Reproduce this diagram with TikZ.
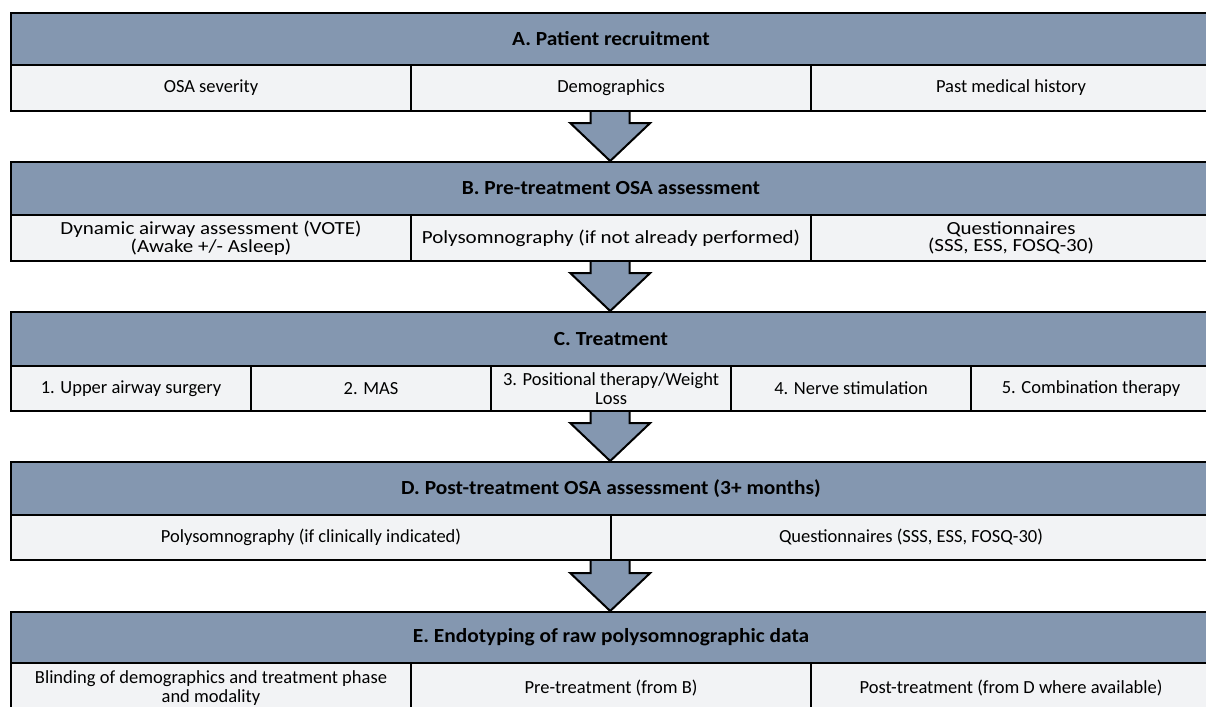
\documentclass[tikz,border=0pt]{standalone}
\usepackage{fontspec}
\usepackage{graphicx}
\setmainfont{Carlito}
\usetikzlibrary{calc}
\definecolor{headfill}{RGB}{132,151,176}
\definecolor{cellfill}{RGB}{242,243,245}
\newcommand{\headfont}{\fontsize{20}{22}\selectfont\bfseries}
\newcommand{\cellfont}{\fontsize{18.5}{19.5}\selectfont}
% horizontally widened text for the headers and the second stage cells
\newcommand{\hwide}[1]{\scalebox{1.07}[1]{#1}}
\newcommand{\bwide}[1]{\scalebox{1.135}[1]{#1}}
\tikzset{
  frame/.style={line width=2pt, draw=black},
  headbox/.style={frame, fill=headfill, anchor=north west, inner sep=0pt,
    minimum width=1200pt, font=\headfont, text=black},
  cellbox/.style={frame, fill=cellfill, anchor=north west, inner sep=0pt,
    align=center, font=\cellfont, text=black},
  bcell/.style={cellbox, minimum width=400pt, minimum height=46pt,
    font=\fontsize{18.5}{17.5}\selectfont},
  fatarrow/.style={line width=2pt, draw=black, fill=headfill, line join=miter},
  tablebox/.style={anchor=north west, inner sep=0pt, minimum width=1200pt}
}
% block arrow from the bottom of one table to the top of the next
\newcommand{\blockarrow}[2]{%
  \path[fatarrow] let \p1=(#1.south), \p2=(#2.north) in
    (\x1-19.5pt,\y1) -- (\x1-19.5pt,\y2+38pt) -- (\x1-40pt,\y2+38pt)
    -- (\x2,\y2) -- (\x1+40pt,\y2+38pt) -- (\x1+19.5pt,\y2+38pt)
    -- (\x1+19.5pt,\y1) -- cycle;}
\begin{document}
\begin{tikzpicture}[x=1pt,y=-1pt]
\useasboundingbox (0,0) rectangle (1206,706);
\clip (0,0) rectangle (1206,706);

% whole-table frames used as arrow end points
\node[tablebox, minimum height=98pt] (tabA) at (10,12) {};
\node[tablebox, minimum height=99pt] (tabB) at (10,161) {};
\node[tablebox, minimum height=99pt] (tabC) at (10,311) {};
\node[tablebox, minimum height=98pt] (tabD) at (10,461) {};
\node[tablebox, minimum height=99pt] (tabE) at (10,611) {};

% arrows between the stages
\blockarrow{tabA}{tabB}
\blockarrow{tabB}{tabC}
\blockarrow{tabC}{tabD}
\blockarrow{tabD}{tabE}

% A. Patient recruitment
\node[headbox, minimum height=52pt] (hA) at (10,12) {\hwide{A. Patient recruitment}};
\node[cellbox, minimum width=400pt, minimum height=46pt] (a1) at (10,64) {OSA severity};
\node[cellbox, minimum width=400pt, minimum height=46pt] (a2) at (410,64) {Demographics};
\node[cellbox, minimum width=400pt, minimum height=46pt] (a3) at (810,64) {Past medical history};

% B. Pre-treatment OSA assessment
\node[headbox, minimum height=53pt] (hB) at (10,161) {\hwide{B. Pre-treatment OSA assessment}};
\node[bcell] (b1) at (10,214) {\bwide{Dynamic airway assessment (VOTE)}\\\bwide{(Awake +/- Asleep)}};
\node[bcell] (b2) at (410,214) {\bwide{Polysomnography (if not already performed)}};
\node[bcell] (b3) at (810,214) {\bwide{Questionnaires}\\\bwide{(SSS, ESS, FOSQ-30)}};

% C. Treatment
\node[headbox, minimum height=54pt] (hC) at (10,311) {\hwide{C. Treatment}};
\node[cellbox, minimum width=240pt, minimum height=45pt] (c1) at (10,365) {1. Upper airway surgery};
\node[cellbox, minimum width=240pt, minimum height=45pt] (c2) at (250,365) {2. MAS};
\node[cellbox, minimum width=240pt, minimum height=45pt] (c3) at (490,365) {3. Positional therapy/Weight\\Loss};
\node[cellbox, minimum width=240pt, minimum height=45pt] (c4) at (730,365) {4. Nerve stimulation};
\node[cellbox, minimum width=240pt, minimum height=45pt] (c5) at (970,365) {5. Combination therapy};

% D. Post-treatment OSA assessment
\node[headbox, minimum height=53pt] (hD) at (10,461) {\hwide{D. Post-treatment OSA assessment (3+ months)}};
\node[cellbox, minimum width=600pt, minimum height=45pt] (d1) at (10,514) {Polysomnography (if clinically indicated)};
\node[cellbox, minimum width=600pt, minimum height=45pt] (d2) at (610,514) {Questionnaires (SSS, ESS, FOSQ-30)};

% E. Endotyping of raw polysomnographic data
\node[headbox, minimum height=51pt] (hE) at (10,611) {\hwide{E. Endotyping of raw polysomnographic data}};
\node[cellbox, minimum width=400pt, minimum height=50pt] (e1) at (10,662) {Blinding of demographics and treatment phase\\and modality};
\node[cellbox, minimum width=400pt, minimum height=50pt] (e2) at (410,662) {Pre-treatment (from B)};
\node[cellbox, minimum width=400pt, minimum height=50pt] (e3) at (810,662) {Post-treatment (from D where available)};
\end{tikzpicture}
\end{document}
